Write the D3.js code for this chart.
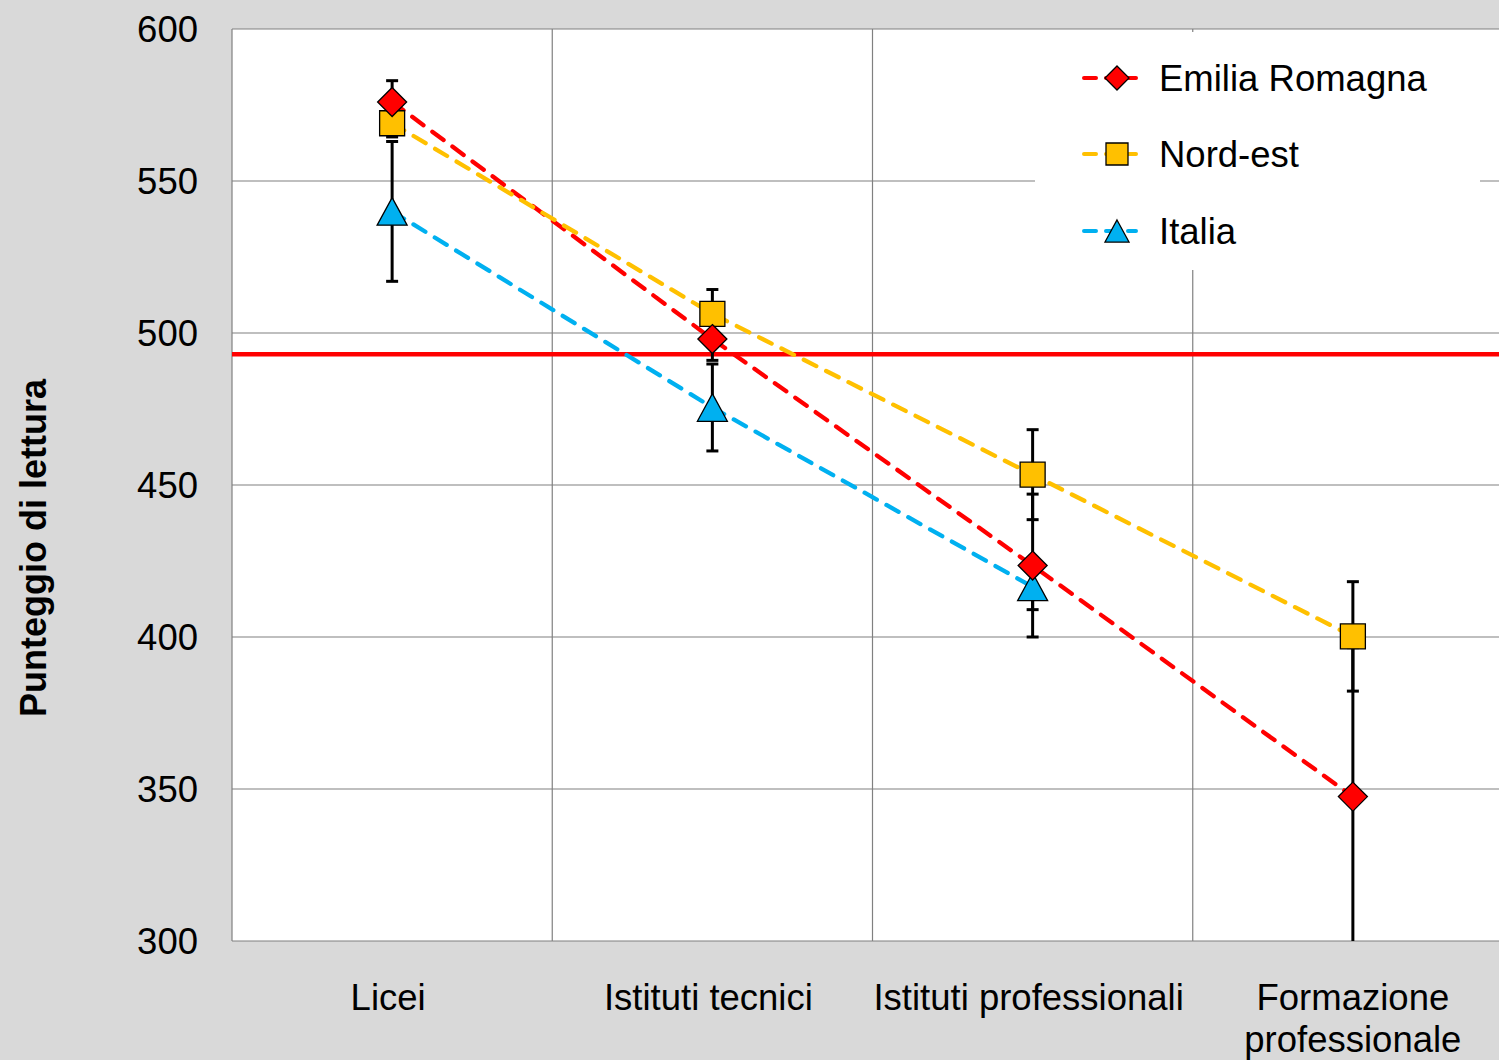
<!DOCTYPE html>
<html><head><meta charset="utf-8">
<script src="https://cdn.jsdelivr.net/npm/d3@7"></script>
<style>body{margin:0;background:#D9D9D9;}svg{display:block;font-family:"Liberation Sans",Arial,sans-serif;}</style>
</head><body><svg id="c" width="1499" height="1060"></svg>
<script>
const categories = ["Licei", "Istituti tecnici", "Istituti professionali", "Formazione professionale"];
const seriesNames = ["Emilia Romagna", "Nord-est", "Italia"];
const emiliaRomagna = [576, 498, 423.5, 347.5];
const emiliaRomagnaErr = [7, 7, 23.5, 49];
const nordEst = [569, 506.3, 453.4, 400.2];
const nordEstErr = [4.5, 8, 14.8, 18];
const italia = [540, 475.5, 416.5, null];
const italiaErr = [23, 14.3, 7.5, null];
const oecdAverage = 493;
const yTicks = [300, 350, 400, 450, 500, 550, 600];
const yTitle = "Punteggio di lettura";

const colors = ["#FF0000", "#FFC000", "#00B0F0"];
const shapes = ["diamond", "square", "triangle"];
const seriesVals = [emiliaRomagna, nordEst, italia];
const seriesErr = [emiliaRomagnaErr, nordEstErr, italiaErr];

const svg = d3.select("#c");
const L = 232, R = 1513, T = 29, B = 941;
const x = d3.scaleBand().domain(categories).range([L, R]).padding(0);
const y = d3.scaleLinear().domain([300, 600]).range([B, T]);
const FS = 36.5;

svg.append("rect").attr("x", L).attr("y", T).attr("width", R - L).attr("height", B - T).attr("fill", "#fff");

// gridlines
svg.append("g").selectAll("line").data(yTicks).join("line")
  .attr("x1", L).attr("x2", R).attr("y1", d => y(d)).attr("y2", d => y(d))
  .attr("stroke", "#808080").attr("stroke-width", 1.2);
svg.append("g").selectAll("line").data(categories).join("line")
  .attr("x1", d => x(d)).attr("x2", d => x(d)).attr("y1", T).attr("y2", B)
  .attr("stroke", "#808080").attr("stroke-width", 1.2);

// legend background (covers gridlines)
svg.append("rect").attr("x", 1035).attr("y", 32).attr("width", 445).attr("height", 238).attr("fill", "#fff");

// y axis labels
svg.append("g").selectAll("text").data(yTicks).join("text")
  .attr("x", 198).attr("y", d => y(d)).attr("dy", "0.36em").attr("text-anchor", "end")
  .attr("font-size", FS).attr("fill", "#000").text(d => d);

svg.append("text").attr("transform", `translate(46,548) rotate(-90)`)
  .attr("text-anchor", "middle").attr("font-size", 36).attr("font-weight", "bold").text(yTitle);

// category labels
const cx = d => x(d) + x.bandwidth() / 2;
categories.forEach(c => {
  const g = svg.append("text").attr("text-anchor", "middle").attr("font-size", FS).attr("fill", "#000");
  if (c === "Formazione professionale") {
    g.append("tspan").attr("x", cx(c)).attr("y", 1010).text("Formazione");
    g.append("tspan").attr("x", cx(c)).attr("y", 1052).text("professionale");
  } else {
    g.append("tspan").attr("x", cx(c) - 4).attr("y", 1010).text(c);
  }
});

// OECD line
svg.append("line").attr("x1", L).attr("x2", R).attr("y1", y(oecdAverage)).attr("y2", y(oecdAverage))
  .attr("stroke", "#FF0000").attr("stroke-width", 4.5);

svg.append("clipPath").attr("id", "pc").append("rect")
  .attr("x", L).attr("y", T).attr("width", R - L).attr("height", B - T);
const plot = svg.append("g").attr("clip-path", "url(#pc)");

// dashed lines
seriesVals.forEach((vals, i) => {
  const pts = categories.map((c, j) => [cx(c), vals[j]]).filter(p => p[1] != null);
  plot.append("path").attr("d", d3.line().x(p => p[0]).y(p => y(p[1]))(pts))
    .attr("fill", "none").attr("stroke", colors[i]).attr("stroke-width", 4.3)
    .attr("stroke-dasharray", "14,11").attr("stroke-linecap", "round");
});

// error bars
seriesVals.forEach((vals, i) => {
  categories.forEach((c, j) => {
    if (vals[j] == null) return;
    const e = seriesErr[i][j];
    const g = plot.append("g").attr("stroke", "#000").attr("stroke-width", 3);
    g.append("line").attr("x1", cx(c)).attr("x2", cx(c)).attr("y1", y(vals[j] + e)).attr("y2", y(vals[j] - e));
    [vals[j] + e, vals[j] - e].forEach(v => {
      g.append("line").attr("x1", cx(c) - 6).attr("x2", cx(c) + 6).attr("y1", y(v)).attr("y2", y(v));
    });
  });
});

function markerPath(shape, s) {
  if (shape === "diamond") return `M0,${-s}L${s},0L0,${s}L${-s},0Z`;
  if (shape === "square") return `M${-s},${-s}H${s}V${s}H${-s}Z`;
  const h = s * 0.92;
  return `M0,${-h}L${s},${h}L${-s},${h}Z`;
}
const sizes = [14.5, 12.5, 15];

[2, 1, 0].forEach(i => {
  categories.forEach((c, j) => {
    const v = seriesVals[i][j];
    if (v == null) return;
    plot.append("path").attr("d", markerPath(shapes[i], sizes[i]))
      .attr("transform", `translate(${cx(c)},${y(v)})`)
      .attr("fill", colors[i]).attr("stroke", "#000").attr("stroke-width", 1.3);
  });
});

// legend
const legY = [78, 154, 231];
seriesNames.forEach((n, i) => {
  const g = svg.append("g").attr("transform", `translate(0,${legY[i]})`);
  g.append("line").attr("x1", 1084).attr("x2", 1136).attr("y1", 0).attr("y2", 0)
    .attr("stroke", colors[i]).attr("stroke-width", 4).attr("stroke-dasharray", "12,10").attr("stroke-linecap", "round");
  g.append("path").attr("d", markerPath(shapes[i], i === 1 ? 11 : 12)).attr("transform", "translate(1117,0)")
    .attr("fill", colors[i]).attr("stroke", "#000").attr("stroke-width", 1.3);
  g.append("text").attr("x", 1159).attr("y", 0).attr("dy", "0.36em").attr("font-size", FS).text(n);
});
</script></body></html>
